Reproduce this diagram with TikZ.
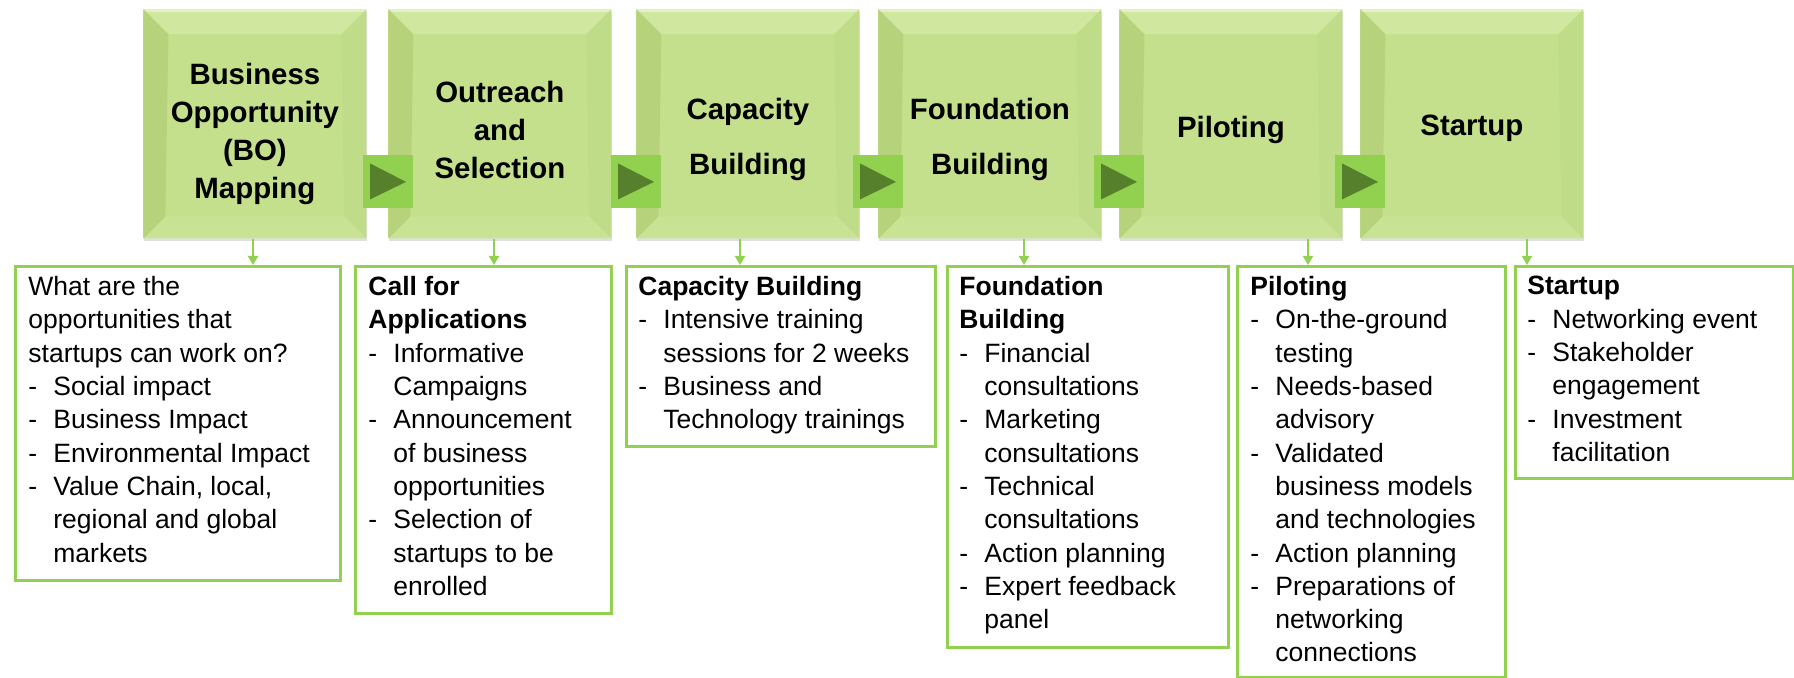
\documentclass[tikz,border=0pt]{standalone}
\usepackage{fontspec}
\setmainfont{Liberation Sans}
\usetikzlibrary{positioning}
\usetikzlibrary{arrows.meta, shadows}

\definecolor{boxgreen}{RGB}{196,224,140}
\definecolor{bevtop}{RGB}{208,231,160}
\definecolor{bevhi}{RGB}{226,241,192}
\definecolor{bevleft}{RGB}{182,211,124}
\definecolor{bevright}{RGB}{191,220,136}
\definecolor{bevbot}{RGB}{201,227,148}
\definecolor{linegreen}{RGB}{146,208,80}
\definecolor{darkgreen}{RGB}{86,128,44}

% dash and indent for the item lists
\newcommand{\dsh}{\makebox[12.5pt][l]{-}}
\newcommand{\ind}{\makebox[12.5pt]{}}

\tikzset{
  stage/.style={rectangle, anchor=north west, minimum width=111.5pt, minimum height=114.5pt, inner sep=0pt, fill=boxgreen,
    drop shadow={shadow xshift=0.3pt, shadow yshift=-1.5pt, opacity=0.25},
    path picture={
      \path (path picture bounding box.north west) coordinate (pnw)
            (path picture bounding box.north east) coordinate (pne)
            (path picture bounding box.south west) coordinate (psw)
            (path picture bounding box.south east) coordinate (pse);
      \fill[bevtop] (pnw) -- (pne) -- ([shift={(-12.5pt,-12.5pt)}]pne) -- ([shift={(12.5pt,-12.5pt)}]pnw) -- cycle;
      \fill[bevhi] (pnw) rectangle ([yshift=-1.5pt]pne);
      \fill[bevbot] (psw) -- (pse) -- ([shift={(-11pt,11pt)}]pse) -- ([shift={(11pt,11pt)}]psw) -- cycle;
      \fill[bevleft] (pnw) -- ([shift={(12.5pt,-12.5pt)}]pnw) -- ([shift={(11pt,11pt)}]psw) -- (psw) -- cycle;
      \fill[bevright] (pne) -- ([shift={(-12.5pt,-12.5pt)}]pne) -- ([shift={(-11pt,11pt)}]pse) -- (pse) -- cycle;
    }},
  stagetitle/.style={align=center, inner sep=0pt, font=\fontsize{14.7}{19}\selectfont\bfseries},
  arrowsq/.style={rectangle, minimum width=25pt, minimum height=26.5pt, inner sep=0pt, fill=linegreen,
    path picture={
      \fill[darkgreen] ([shift={(3.5pt,-4pt)}]path picture bounding box.north west)
        -- ([shift={(3.5pt,4.5pt)}]path picture bounding box.south west)
        -- ([xshift=-3.5pt]path picture bounding box.east) -- cycle;
    }},
  infobox/.style={rectangle, anchor=north west, draw=linegreen, line width=1.5pt, inner sep=0pt},
  infotext/.style={anchor=north west, align=left, inner sep=0pt, font=\fontsize{13.25}{16.65}\selectfont},
  downarr/.style={draw=linegreen, line width=1pt, -{Triangle[width=5pt,length=4.5pt]}},
}

\begin{document}
\begin{tikzpicture}[x=0.5pt, y=-0.5pt]
\useasboundingbox (0,0) rectangle (1794,678);

% stages
\foreach \i/\bx in {1/143, 2/388, 3/636, 4/878, 5/1119, 6/1360}
  \node[stage] (b\i) at (\bx,9) {};

\node[stagetitle] (n1) at ([yshift=-5pt]b1.center) {Business\\Opportunity\\(BO)\\Mapping};
\node[stagetitle] (n2) at ([yshift=-3.2pt]b2.center) {Outreach\\and\\Selection};
\node[stagetitle] (n3) at ([yshift=-7.7pt]b3.center) {Capacity\\[8.5pt]Building};
\node[stagetitle] (n4) at ([yshift=-7.7pt]b4.center) {Foundation\\[8.5pt]Building};
\node[stagetitle] (n5) at ([yshift=-3.2pt]b5.center) {Piloting};
\node[stagetitle] (n6) at ([yshift=-2.2pt]b6.center) {Startup};

% arrows between stages
\foreach \i/\j in {1/2, 2/3, 3/4, 4/5, 5/6}
  \node[arrowsq] (s\i) at ([yshift=-29pt]b\j.west) {};

% detail boxes
\node[infobox, minimum width=162.5pt, minimum height=157pt] (d1) at (14,265) {};
\node[infobox, minimum width=128pt, minimum height=173.5pt] (d2) at (354,265) {};
\node[infobox, minimum width=154.5pt, minimum height=90pt] (d3) at (625,265) {};
\node[infobox, minimum width=140.5pt, minimum height=190.5pt] (d4) at (946,265) {};
\node[infobox, minimum width=134pt, minimum height=205.5pt] (d5) at (1236,265) {};
\node[infobox, minimum width=139pt, minimum height=106pt] (d6) at (1514,265) {};

\node[infotext] (x1) at (28,276) {What are the\\opportunities that\\startups can work on?\\
  \dsh Social impact\\\dsh Business Impact\\\dsh Environmental Impact\\
  \dsh Value Chain, local,\\\ind regional and global\\\ind markets};
\node[infotext] (x2) at (368,276) {\textbf{Call for}\\\textbf{Applications}\\
  \dsh Informative\\\ind Campaigns\\\dsh Announcement\\\ind of business\\\ind opportunities\\
  \dsh Selection of\\\ind startups to be\\\ind enrolled};
\node[infotext] (x3) at (638,276) {\textbf{Capacity Building}\\
  \dsh Intensive training\\\ind sessions for 2 weeks\\\dsh Business and\\\ind Technology trainings};
\node[infotext] (x4) at (959,276) {\textbf{Foundation}\\\textbf{Building}\\
  \dsh Financial\\\ind consultations\\\dsh Marketing\\\ind consultations\\
  \dsh Technical\\\ind consultations\\\dsh Action planning\\\dsh Expert feedback\\\ind panel};
\node[infotext] (x5) at (1250,276) {\textbf{Piloting}\\
  \dsh On-the-ground\\\ind testing\\\dsh Needs-based\\\ind advisory\\
  \dsh Validated\\\ind business models\\\ind and technologies\\\dsh Action planning\\
  \dsh Preparations of\\\ind networking\\\ind connections};
\node[infotext] (x6) at (1527,276) {\textbf{Startup}\\
  \dsh Networking event\\\dsh Stakeholder\\\ind engagement\\\dsh Investment\\\ind facilitation};

% links from stages to details
\foreach \i/\ax in {1/253, 2/494, 3/740, 4/1024, 5/1308, 6/1527} {
  \coordinate (a\i) at (\ax,0);
  \draw[downarr] (b\i.south -| a\i) -- (d\i.north -| a\i);
}

\end{tikzpicture}
\end{document}
